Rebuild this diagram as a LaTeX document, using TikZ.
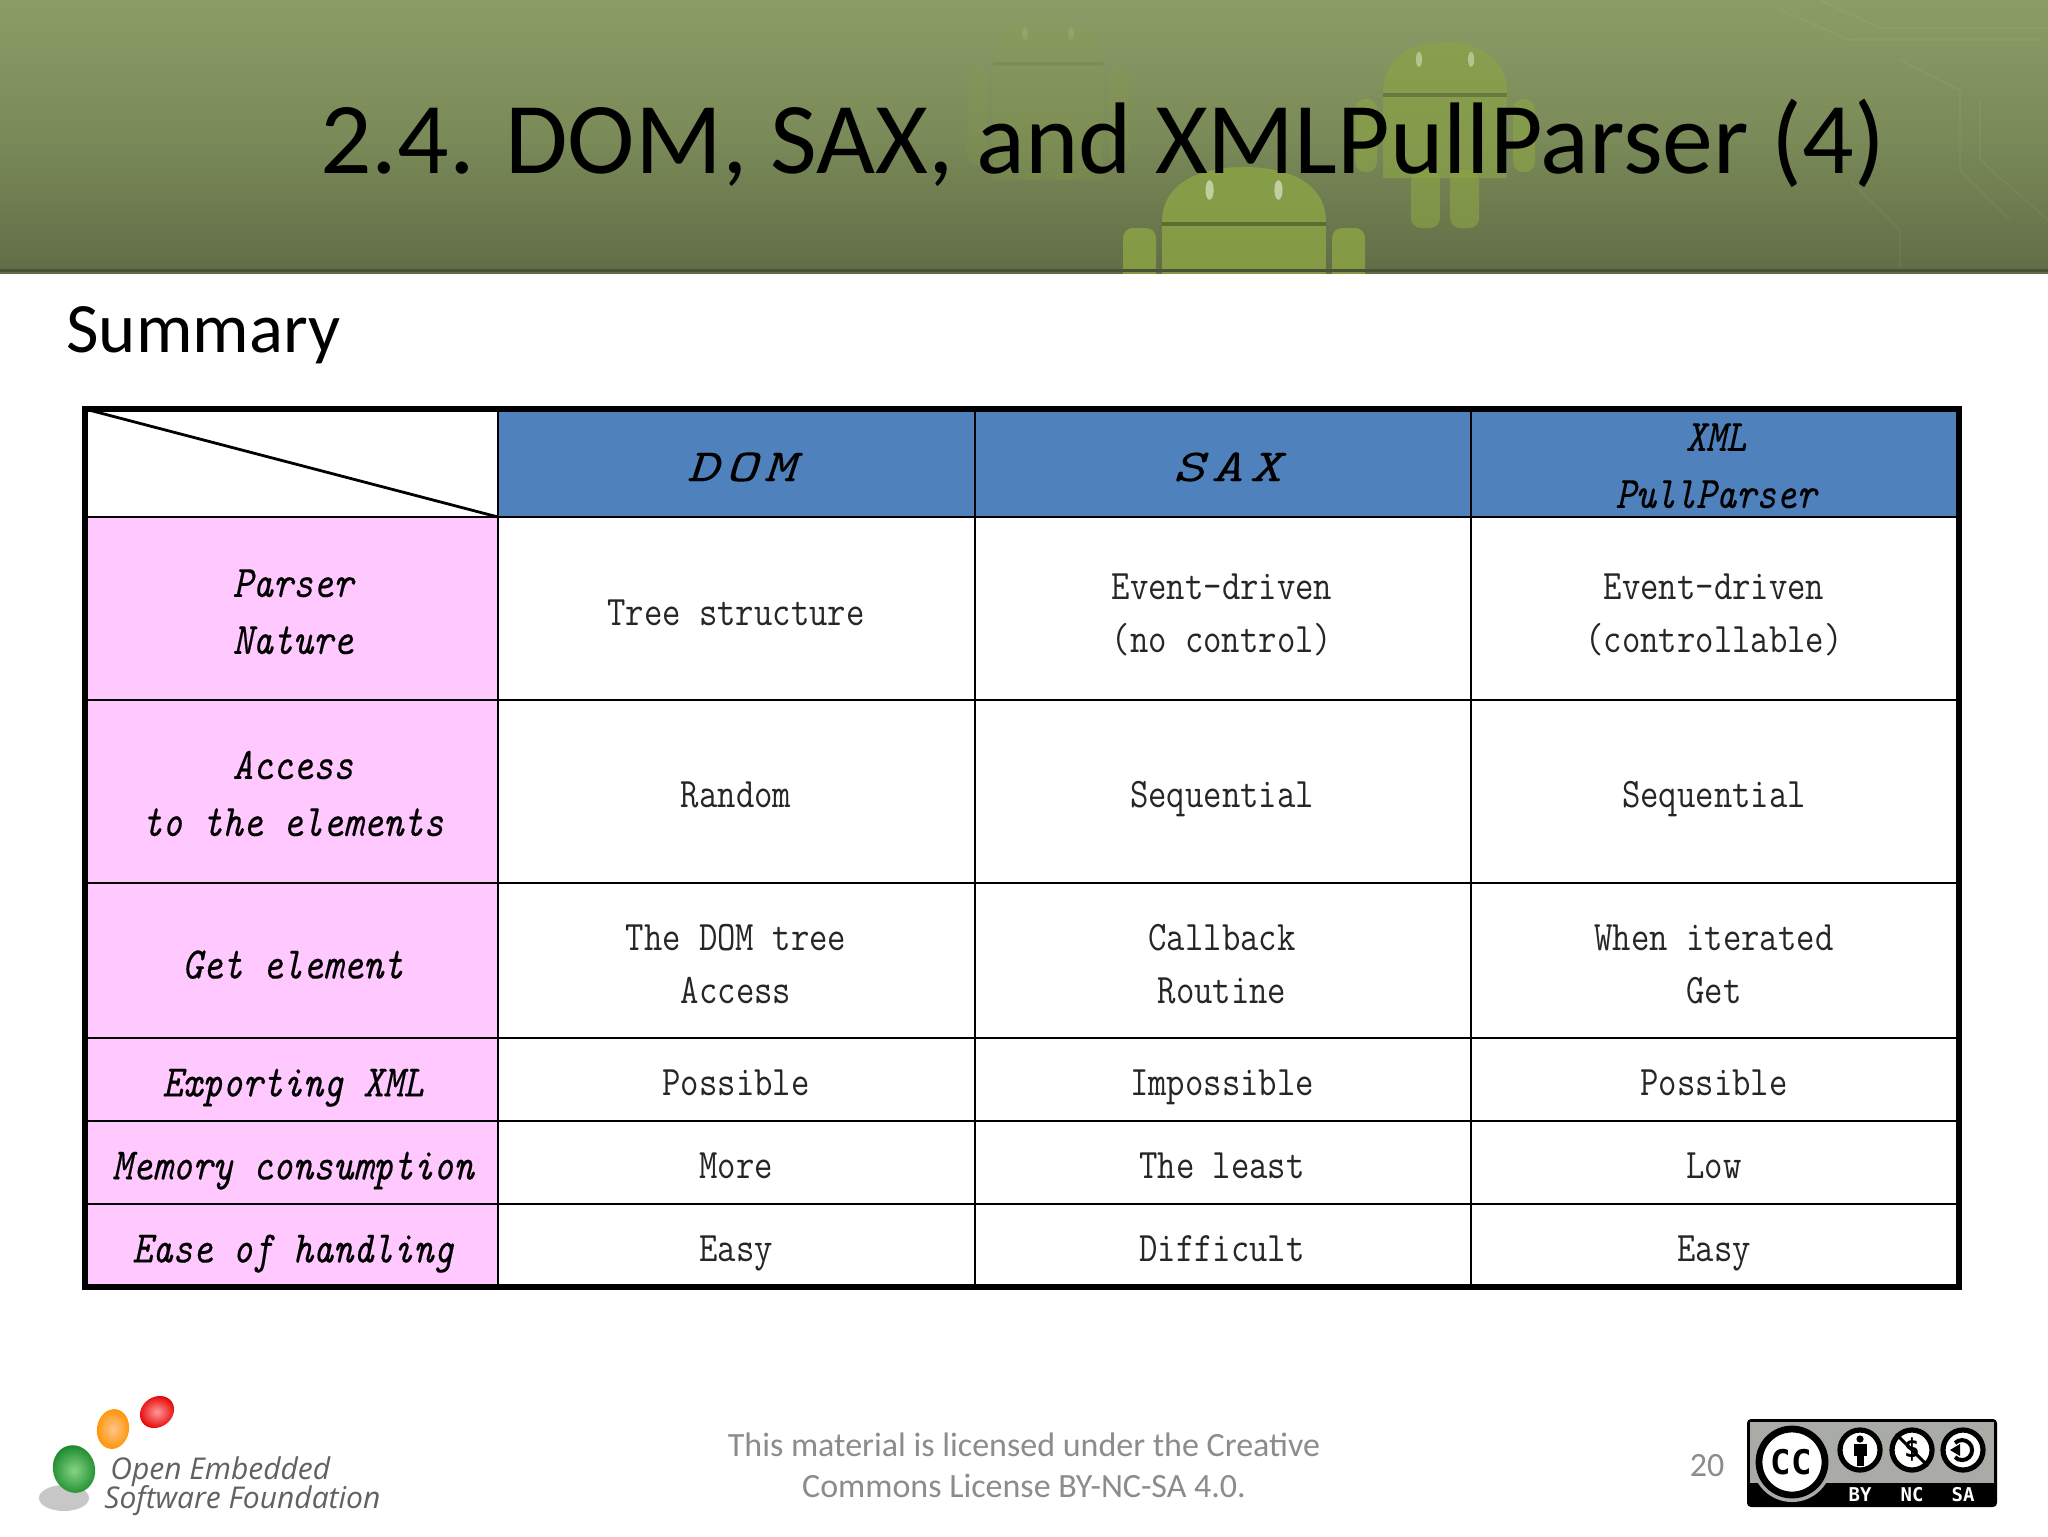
\documentclass[tikz,border=0pt]{standalone}
\usepackage{fontspec}
\setmainfont{Carlito}
\setmonofont[FakeStretch=0.85,ItalicFeatures={FakeBold=0.35}]{Latin Modern Mono}
\newfontfamily\widemono[FakeStretch=1.3,ItalicFeatures={FakeBold=0.1}]{Latin Modern Mono}
\newfontfamily\logofont{Open Sans}
\newfontfamily\badgefont{DejaVu Sans Mono}
\usetikzlibrary{shadings,arrows.meta}
\definecolor{hdrtop}{HTML}{8B9D67}
\definecolor{hdrmid}{HTML}{7A8A58}
\definecolor{hdrbot}{HTML}{626D47}
\definecolor{droidc}{HTML}{8CA545}
\definecolor{tblblue}{HTML}{4F81BD}
\definecolor{tblpink}{HTML}{FFC9FF}
\definecolor{footgray}{HTML}{8C8C8C}
\definecolor{badgegray}{HTML}{A9ACA6}
\definecolor{eggg}{HTML}{1E8C2E}
\definecolor{egggl}{HTML}{86D486}
\tikzset{
  x=0.5pt,y=-0.5pt,
  inner/.style={line width=1.4pt,draw=black},
  outer/.style={line width=3pt,draw=black},
  celltext/.style={inner sep=0pt,align=center,text=black!85,font=\ttfamily\fontsize{21}{26.5}\selectfont},
  labeltext/.style={inner sep=0pt,align=center,font=\ttfamily\itshape\fontsize{22.5}{28.5}\selectfont},
  headtext/.style={inner sep=0pt,align=center,font=\widemono\itshape\fontsize{23}{28.5}\selectfont},
  headsmall/.style={inner sep=0pt,align=center,font=\ttfamily\itshape\fontsize{22.5}{28.5}\selectfont},
  foot/.style={inner sep=0pt,text=footgray,font=\fontsize{17}{20}\selectfont},
  badgelabel/.style={inner sep=0pt,text=white,font=\badgefont\bfseries\fontsize{9.5}{10}\selectfont},
  logotext/.style={inner sep=0pt,anchor=base west,text=black!62,font=\logofont\itshape\fontsize{15}{16}\selectfont},
  ccsmall/.style={circle,draw=black,line width=2.6pt,fill=white,minimum size=20pt,inner sep=0pt},
  circuit/.style={line width=0.6pt,draw=white,opacity=0.06},
}
% cx, top, half width, band y, body bottom, arm width, arm bottom, leg bottom, opacity
\newcommand\droid[9]{%
  \begin{scope}[opacity=#9]
    \fill[droidc] (#1-#3,#4) .. controls (#1-#3,#2+14) and (#1-#3*0.5,#2) .. (#1,#2)
       .. controls (#1+#3*0.5,#2) and (#1+#3,#2+14) .. (#1+#3,#4) -- cycle;
    \fill[droidc] (#1-#3,#4+4) rectangle (#1+#3,#5);
    \fill[droidc,rounded corners=5pt] (#1-#3-#6-6,#4+6) rectangle (#1-#3-6,#7);
    \fill[droidc,rounded corners=5pt] (#1+#3+6,#4+6) rectangle (#1+#3+#6+6,#7);
    \fill[droidc,rounded corners=5pt] (#1-#3*0.55,#5-8) rectangle (#1-#3*0.08,#8);
    \fill[droidc,rounded corners=5pt] (#1+#3*0.08,#5-8) rectangle (#1+#3*0.55,#8);
    \fill[black!35!droidc] (#1-#3,#4) rectangle (#1+#3,#4+4);
    \fill[white!60!droidc] (#1-#3*0.42,#2+#3*0.28) ellipse [x radius=#3*0.05,y radius=#3*0.12];
    \fill[white!60!droidc] (#1+#3*0.42,#2+#3*0.28) ellipse [x radius=#3*0.05,y radius=#3*0.12];
  \end{scope}}
\begin{document}
\begin{tikzpicture}
\useasboundingbox (0,0) rectangle (2048,1536);
\fill[white] (0,0) rectangle (2048,1536);
% header band
\shade[top color=hdrtop,bottom color=hdrbot,middle color=hdrmid] (0,0) rectangle (2048,273);
\begin{scope}
  \clip (0,0) rectangle (2048,273);
  \draw[circuit] (1780,10) -- (1850,40) -- (2040,40);
  \draw[circuit] (1820,0) -- (1880,28) -- (2048,28);
  \draw[circuit] (1900,60) -- (1960,90) -- (1960,170) -- (2010,220);
  \draw[circuit] (1850,180) -- (1900,230) -- (1900,273);
  \draw[circuit] (1980,100) -- (1980,160) -- (2048,220);
  \droid{1048}{18}{55}{62}{180}{20}{165}{180}{0.16}
  \droid{1445}{42}{62}{93}{178}{22}{172}{228}{0.62}
  \droid{1244}{167}{82}{222}{300}{33}{300}{300}{0.8}
\end{scope}
\fill[hdrbot!75!black] (0,269) rectangle (2048,272);
\node[inner sep=0pt,anchor=base west,font=\fontsize{50.85}{56}\selectfont] (title) at (320,173) {2.4. DOM, SAX, and XMLPullParser (4)};
\node[inner sep=0pt,anchor=base west,font=\fontsize{35.4}{40}\selectfont] (summary) at (66,352) {Summary};
% table fills
\fill[tblblue] (498,409) rectangle (1959,517);
\fill[tblpink] (85,517) rectangle (498,1287);
% table rules
\coordinate (tl) at (85,409);
\coordinate (tc) at (498,517);
\foreach \yy in {517,700,883,1038,1121,1204} \draw[inner] (85,\yy) -- (1959,\yy);
\foreach \xx in {498,975,1471} \draw[inner] (\xx,409) -- (\xx,1287);
\draw[inner] (tl) -- (tc);
\draw[outer] (85,409) rectangle (1959,1287);
% header cells
\node[headtext] (hdom) at (741,467) {D\hspace{3.5pt}O\hspace{3.5pt}M};
\node[headtext] (hsax) at (1227,467) {S\hspace{3.5pt}A\hspace{3.5pt}X};
\node[headsmall] (hxml) at (1716,468) {\strut XML\\\strut PullParser};
% row labels
\node[labeltext] (l1) at (293,614) {\strut Parser\\\strut Nature};
\node[labeltext] (l2) at (293,796) {\strut Access\\\strut to the elements};
\node[labeltext] (l3) at (293,967) {\strut Get element};
\node[labeltext] (l4) at (293,1085) {\strut Exporting XML};
\node[labeltext] (l5) at (293,1168) {\strut Memory consumption};
\node[labeltext] (l6) at (293,1251) {\strut Ease of handling};
% body
\node[celltext] (c11) at (736,615) {\strut Tree structure};
\node[celltext] (c12) at (1222,615) {\strut Event-driven\\\strut (no control)};
\node[celltext] (c13) at (1714,615) {\strut Event-driven\\\strut (controllable)};
\node[celltext] (c21) at (736,797) {\strut Random};
\node[celltext] (c22) at (1222,797) {\strut Sequential};
\node[celltext] (c23) at (1714,797) {\strut Sequential};
\node[celltext] (c31) at (736,966) {\strut The DOM tree\\\strut Access};
\node[celltext] (c32) at (1222,966) {\strut Callback\\\strut Routine};
\node[celltext] (c33) at (1714,966) {\strut When iterated\\\strut Get};
\node[celltext] (c41) at (736,1085) {\strut Possible};
\node[celltext] (c42) at (1222,1085) {\strut Impossible};
\node[celltext] (c43) at (1714,1085) {\strut Possible};
\node[celltext] (c51) at (736,1168) {\strut More};
\node[celltext] (c52) at (1222,1168) {\strut The least};
\node[celltext] (c53) at (1714,1168) {\strut Low};
\node[celltext] (c61) at (736,1251) {\strut Easy};
\node[celltext] (c62) at (1222,1251) {\strut Difficult};
\node[celltext] (c63) at (1714,1251) {\strut Easy};
% logo
\fill[black!22] (64,1498) ellipse [x radius=25,y radius=13];
\shade[inner color=egggl,outer color=eggg,rotate around={15:(74,1469)}] (74,1469) ellipse [x radius=21,y radius=24];
\shade[inner color=orange!45!white,outer color=orange!85!yellow,rotate around={-10:(113,1429)}] (113,1429) ellipse [x radius=16,y radius=20];
\shade[inner color=red!40!white,outer color=red!90!black,rotate around={35:(157,1412)}] (157,1412) ellipse [x radius=18,y radius=15];
\node[logotext] (lg1) at (110,1479) {Open Embedded};
\node[logotext] (lg2) at (104,1508) {Software Foundation};
% footer
\node[foot] (f1) at (1024,1445) {This material is licensed under the Creative};
\node[foot] (f2) at (1024,1486) {Commons License BY-NC-SA 4.0.};
\node[foot] (pg) at (1707,1466) {20};
% badge
\fill[black,rounded corners=2pt] (1747,1419) rectangle (1997,1507);
\fill[badgegray] (1750,1422) rectangle (1994,1483);
\begin{scope}
  \clip (1747,1419) rectangle (1997,1507);
  \fill[badgegray] (1792,1462) circle [radius=40];
\end{scope}
\node[circle,fill=white,draw=black,line width=3.4pt,minimum size=33pt,inner sep=0pt,font=\badgefont\bfseries\fontsize{17}{17}\selectfont] (cc) at (1792,1462) {\hspace{-1pt}CC};
\node[ccsmall] (by) at (1860,1450) {};
\node[ccsmall,font=\badgefont\bfseries\fontsize{13}{13}\selectfont] (nc) at (1912,1450) {\$};
\node[ccsmall] (sa) at (1963,1450) {};
% attribution figure
\fill[black] (by.center) ++(0,-11) circle [radius=3.6];
\fill[black] (by) ++(-6.5,-6) rectangle ++(13,12);
\fill[black] (by) ++(-3.5,6) rectangle ++(7,10);
% non-commercial bar
\draw[black,line width=1.5pt] (nc.north west) -- (nc.south east);
% share-alike arrow
\draw[black,line width=2pt] (sa) ++(-8,-7) arc [start angle=-135,end angle=135,radius=10] ;
\fill[black] (sa) ++(-13,0) -- ++(10,-6) -- ++(0,12) -- cycle;
\node[badgelabel] (lby) at (1860,1495) {BY};
\node[badgelabel] (lnc) at (1912,1495) {NC};
\node[badgelabel] (lsa) at (1963,1495) {SA};
\end{tikzpicture}
\end{document}
